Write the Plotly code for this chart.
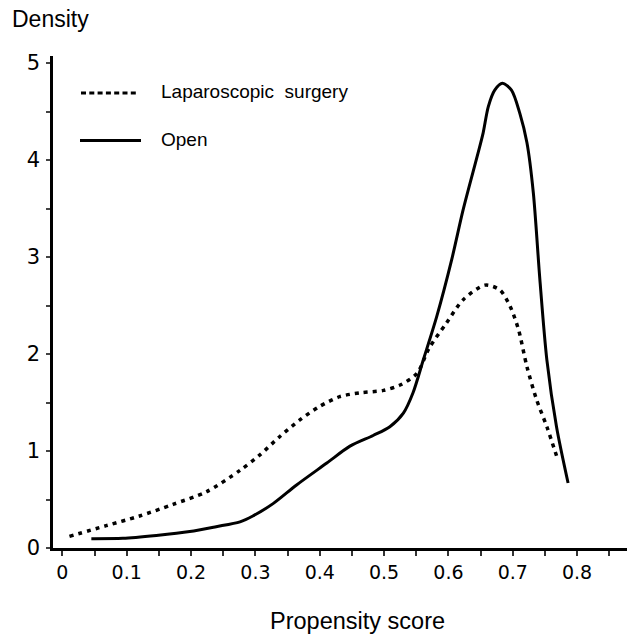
import plotly.graph_objects as go

# Laparoscopic surgery (dotted)
lap_x = [0.011, 0.068, 0.120, 0.172, 0.224, 0.276, 0.307, 0.338, 0.369, 0.400, 0.431,
         0.463, 0.499, 0.525, 0.551, 0.570, 0.597, 0.623, 0.657, 0.680, 0.696, 0.709,
         0.722, 0.737, 0.753, 0.770]
lap_y = [0.12, 0.23, 0.33, 0.45, 0.58, 0.80, 0.96, 1.15, 1.32, 1.46, 1.56,
         1.60, 1.625, 1.68, 1.80, 2.06, 2.32, 2.56, 2.71, 2.66, 2.49, 2.25,
         1.87, 1.53, 1.25, 0.91]

# Open (solid)
open_x = [0.045, 0.094, 0.146, 0.198, 0.239, 0.276, 0.296, 0.328, 0.364, 0.411, 0.447,
          0.483, 0.509, 0.530, 0.545, 0.561, 0.582, 0.605, 0.623, 0.646, 0.654, 0.662,
          0.672, 0.684, 0.698, 0.711, 0.722, 0.732, 0.742, 0.753, 0.768, 0.786]
open_y = [0.096, 0.10, 0.13, 0.17, 0.22, 0.27, 0.33, 0.46, 0.65, 0.876, 1.05,
          1.16, 1.25, 1.39, 1.60, 1.94, 2.39, 2.97, 3.49, 4.07, 4.28, 4.55,
          4.72, 4.79, 4.72, 4.48, 4.18, 3.66, 2.78, 1.94, 1.25, 0.67]

series_names = ["Laparoscopic  surgery", "Open"]
x_tick_vals = [0, 0.1, 0.2, 0.3, 0.4, 0.5, 0.6, 0.7, 0.8]
x_tick_text = ["0", "0.1", "0.2", "0.3", "0.4", "0.5", "0.6", "0.7", "0.8"]
y_tick_vals = [0, 1, 2, 3, 4, 5]

# page has an 8px body margin; figure sized to fill the remaining window
OFF = 8
W, H = 635 - OFF, 634 - OFF
ML, MR, MT, MB = 53 - OFF, 0, 56 - OFF, 86

fig = go.Figure()
fig.add_trace(go.Scatter(x=lap_x, y=lap_y, mode="lines", name=series_names[0],
                         line=dict(color="black", width=3.5, dash="4px,5px", shape="spline", smoothing=0.8),
                         showlegend=False))
fig.add_trace(go.Scatter(x=open_x, y=open_y, mode="lines", name=series_names[1],
                         line=dict(color="black", width=3, shape="spline", smoothing=0.8),
                         showlegend=False))

fig.update_xaxes(range=[-0.0146, 0.890], showline=True, linecolor="black", linewidth=2.5,
                 ticks="outside", ticklen=5, tickwidth=1.5, tickcolor="#333",
                 tickvals=x_tick_vals, ticktext=x_tick_text,
                 tickfont=dict(family="DejaVu Sans", size=19, color="black"),
                 minor=dict(dtick=0.05, tick0=0, ticks="outside", ticklen=5, tickwidth=1.5, tickcolor="#333"),
                 showgrid=False, zeroline=False, automargin=False)
fig.update_yaxes(range=[0, (H - MT - MB) / 97.0], showline=True, linecolor="black", linewidth=2.5,
                 ticks="outside", ticklen=4, tickwidth=1.5, tickcolor="#444",
                 tickvals=y_tick_vals, tickfont=dict(family="DejaVu Sans", size=21, color="black"),
                 ticklabelstandoff=2,
                 minor=dict(dtick=0.5, tick0=0, ticks="outside", ticklen=4, tickwidth=1.5, tickcolor="#444"),
                 showgrid=False, zeroline=False, automargin=False)

pw = W - ML - MR
ph = H - MT - MB
def px(xp):  # page pixel -> paper
    return (xp - OFF - ML) / pw
def py(yp):
    return (H - MB - (yp - OFF)) / ph

shapes = [
    dict(type="line", xref="paper", yref="paper", x0=px(81), x1=px(138), y0=py(93), y1=py(93),
         line=dict(color="black", width=3, dash="5px,3.3px")),
    dict(type="line", xref="paper", yref="paper", x0=px(80), x1=px(141), y0=py(140.5), y1=py(140.5),
         line=dict(color="black", width=3)),
]
labfont = dict(family="Liberation Sans", size=19, color="black")
annotations = [
    dict(text=series_names[0], xref="paper", yref="paper", x=px(159), y=py(91), xanchor="left",
         yanchor="middle", showarrow=False, font=labfont),
    dict(text=series_names[1], xref="paper", yref="paper", x=px(159), y=py(139), xanchor="left",
         yanchor="middle", showarrow=False, font=labfont),
    dict(text="Density", xref="paper", yref="paper", x=px(10), y=py(19), xanchor="left",
         yanchor="middle", showarrow=False, font=dict(family="Liberation Sans", size=23, color="black")),
    dict(text="Propensity score", xref="paper", yref="paper", x=px(357), y=py(621), xanchor="center",
         yanchor="middle", showarrow=False, font=dict(family="Liberation Sans", size=23.5, color="black")),
]

fig.update_layout(width=W, height=H, margin=dict(l=ML, r=MR, t=MT, b=MB, autoexpand=False),
                  plot_bgcolor="white", paper_bgcolor="white",
                  shapes=shapes, annotations=annotations, showlegend=False)

fig.write_html("out.html")
